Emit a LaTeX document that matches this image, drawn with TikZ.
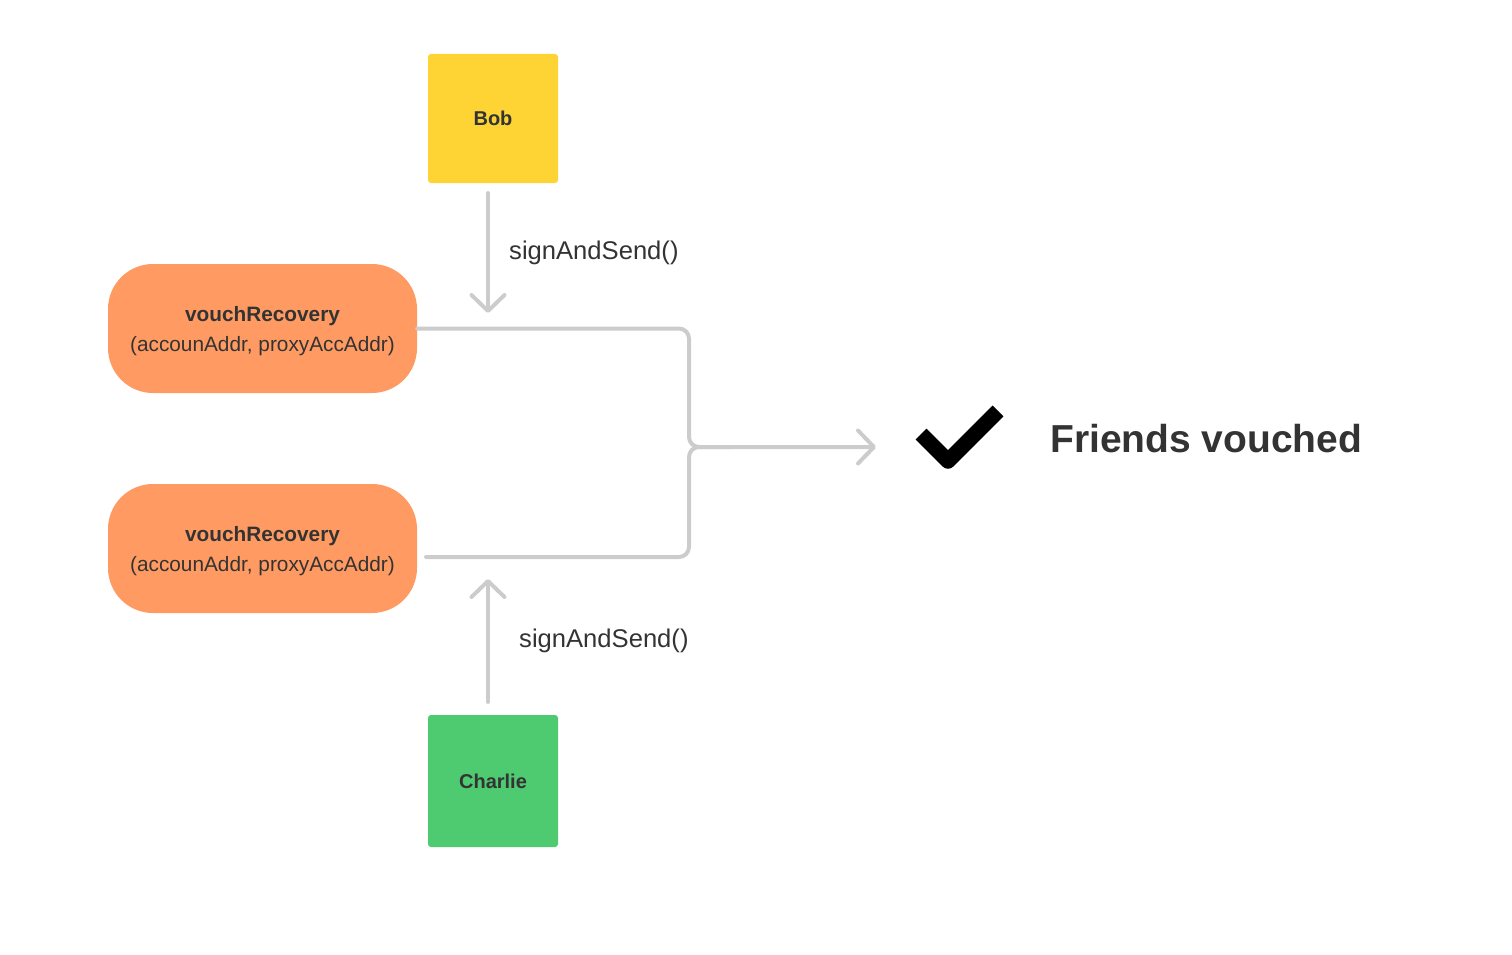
\documentclass[tikz,border=0pt]{standalone}
\usepackage{fontspec}
\setmainfont{Liberation Sans}
\usetikzlibrary{arrows.meta}
\definecolor{bobyellow}{HTML}{FED334}
\definecolor{charliegreen}{HTML}{4ECB71}
\definecolor{pillorange}{HTML}{FF9B62}
\definecolor{linegray}{HTML}{CDCCCC}
\definecolor{txt}{HTML}{333333}
\begin{document}
\begin{tikzpicture}[x=1pt,y=-1pt,
  person/.style={rounded corners=3pt, minimum width=130pt, minimum height=129pt, inner sep=0pt,
    font=\bfseries\fontsize{20}{24}\selectfont, text=txt},
  pill/.style={fill=pillorange, rounded corners=45pt, minimum width=309pt, minimum height=129pt,
    inner sep=0pt, align=center, font=\fontsize{20.8}{30}\selectfont, text=txt, text height=51pt},
  conn/.style={draw=linegray, line width=4pt, line cap=round, line join=round},
  tip/.style={-{Straight Barb[length=16pt,width=33pt,round]}},
  lbl/.style={font=\fontsize{25.6}{30}\selectfont, text=txt, anchor=base west, inner sep=0pt},
]
\useasboundingbox (0,0) rectangle (1512,955);

\node[person, fill=bobyellow] (bob) at (493,118.5) {Bob};
\node[person, fill=charliegreen, minimum height=132pt] (charlie) at (493,781) {Charlie};
\node[pill] (vr1) at (262.5,328.5) {{\bfseries vouchRecovery}\\(accounAddr, proxyAccAddr)};
\node[pill] (vr2) at (262.5,548.5) {{\bfseries vouchRecovery}\\(accounAddr, proxyAccAddr)};

\coordinate (bobout) at (488,193);
\coordinate (bobin) at (488,313);
\coordinate (chout) at (488,702);
\coordinate (chin) at (488,579);
\coordinate (vr2out) at (426,557);
\coordinate (merge) at (689,447);
\coordinate (result) at (876,447);

\draw[conn, tip] (bobout) -- (bobin);
\draw[conn, tip] (chout) -- (chin);
\node[lbl] (l1) at (509,259) {signAndSend()};
\node[lbl] (l2) at (519,647) {signAndSend()};

\draw[conn, rounded corners=10pt] (vr2out) -- (689,557) -- (merge) -- (730,447);
\draw[conn, rounded corners=10pt, tip] (vr1.east) -- (689,328.5) -- (merge) -- (result);

\draw[line width=15.5pt, line join=round] (921,434) -- (948,461) -- (998,411);
\node[anchor=west, inner sep=0pt, font=\bfseries\fontsize{39}{45}\selectfont, text=txt] (fv) at (1050,439) {Friends vouched};
\end{tikzpicture}
\end{document}
